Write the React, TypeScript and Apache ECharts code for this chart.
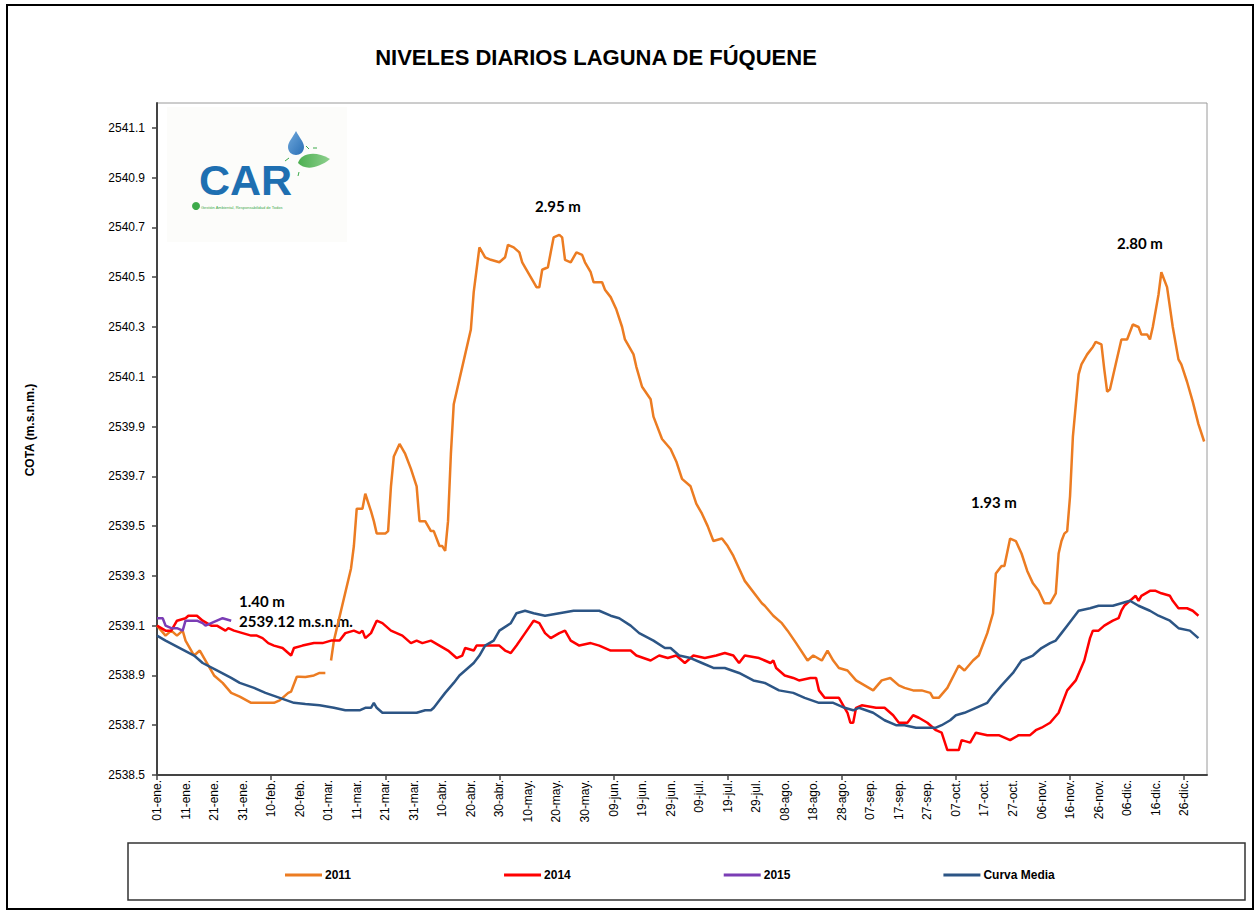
import React, { useEffect, useRef } from "react";
import * as echarts from "echarts";

// ---------- DATA ----------
const DAY_LABELS = [
  "01-ene.", "11-ene.", "21-ene.", "31-ene.", "10-feb.", "20-feb.", "01-mar.", "11-mar.", "21-mar.", "31-mar.",
  "10-abr.", "20-abr.", "30-abr.", "10-may.", "20-may.", "30-may.", "09-jun.", "19-jun.", "29-jun.", "09-jul.",
  "19-jul.", "29-jul.", "08-ago.", "18-ago.", "28-ago.", "07-sep.", "17-sep.", "27-sep.", "07-oct.", "17-oct.",
  "27-oct.", "06-nov.", "16-nov.", "26-nov.", "06-dic.", "16-dic.", "26-dic.",
];
const Y_TICKS = [2538.5, 2538.7, 2538.9, 2539.1, 2539.3, 2539.5, 2539.7, 2539.9, 2540.1, 2540.3, 2540.5, 2540.7, 2540.9, 2541.1];

const DAYS_2011 = [
  0, 3, 5, 7, 9, 10, 13, 15, 17, 20, 23, 26, 29, 33, 38, 41, 43, 46, 47, 49, 50, 52, 55, 57, 59,
  60,
  61, 62, 68, 69, 70, 72, 73, 75, 76, 77, 80, 81, 82, 83, 85, 87, 89, 91, 92, 94, 96, 97, 99, 100,
  101, 102, 103, 104, 106, 108, 110, 111, 113, 115, 117, 120, 122, 123, 125, 127, 128, 129, 132, 133,
  134, 135, 137, 138, 139, 141, 142, 143, 145, 147, 149, 150, 152, 153, 156, 157, 159, 161, 163, 164,
  167, 168, 170, 173, 174, 177, 180, 182, 184, 187, 189, 191, 193, 195, 198, 200, 202, 204, 206, 212,
  213, 216, 219, 221, 224, 228, 230, 233, 235, 237, 239, 242, 245, 248, 251, 254, 257, 260, 262, 265,
  268, 271, 272, 274, 277, 281, 283, 286, 288, 291, 293, 294, 296, 297, 299, 301, 303, 305, 307, 309,
  311, 313, 315, 316, 317, 318, 319, 320, 321, 323, 324, 326, 328, 329, 331, 332, 333, 334, 336, 338,
  340, 342, 344, 345, 347, 348, 349, 351, 352, 354, 356, 358, 359, 361, 363, 365, 367,
];
const VALUES_2011 = [
  2539.10, 2539.06, 2539.08, 2539.06, 2539.08, 2539.04, 2538.98, 2539.00, 2538.96, 2538.90, 2538.87, 2538.83, 2538.815, 2538.79, 2538.79, 2538.79, 2538.80, 2538.83, 2538.835, 2538.895, 2538.895, 2538.894, 2538.90, 2538.91, 2538.91,
  null,
  2538.96, 2539.04, 2539.33, 2539.42, 2539.57, 2539.57, 2539.63, 2539.56, 2539.52, 2539.47, 2539.47, 2539.48, 2539.66, 2539.78, 2539.83, 2539.79, 2539.73, 2539.66, 2539.52, 2539.52, 2539.48, 2539.48, 2539.42, 2539.42,
  2539.40, 2539.52, 2539.79, 2539.99, 2540.09, 2540.19, 2540.29, 2540.44, 2540.62, 2540.58, 2540.57, 2540.56, 2540.58, 2540.63, 2540.62, 2540.60, 2540.56, 2540.54, 2540.48, 2540.46,
  2540.46, 2540.53, 2540.54, 2540.60, 2540.66, 2540.67, 2540.66, 2540.57, 2540.56, 2540.60, 2540.59, 2540.56, 2540.52, 2540.48, 2540.48, 2540.45, 2540.42, 2540.37, 2540.30, 2540.25,
  2540.19, 2540.14, 2540.06, 2540.01, 2539.94, 2539.85, 2539.81, 2539.76, 2539.69, 2539.66, 2539.59, 2539.55, 2539.50, 2539.44, 2539.45, 2539.42, 2539.38, 2539.33, 2539.28, 2539.19,
  2539.18, 2539.14, 2539.11, 2539.08, 2539.03, 2538.96, 2538.98, 2538.96, 2539.00, 2538.96, 2538.93, 2538.92, 2538.88, 2538.86, 2538.84, 2538.88, 2538.89, 2538.86, 2538.85, 2538.84,
  2538.84, 2538.83, 2538.81, 2538.81, 2538.85, 2538.94, 2538.92, 2538.96, 2538.98, 2539.07, 2539.15, 2539.31, 2539.34, 2539.34, 2539.45, 2539.44, 2539.39, 2539.32, 2539.27, 2539.24,
  2539.19, 2539.19, 2539.23, 2539.39, 2539.44, 2539.47, 2539.48, 2539.62, 2539.86, 2540.11, 2540.15, 2540.19, 2540.22, 2540.24, 2540.23, 2540.13, 2540.04, 2540.05, 2540.15, 2540.25,
  2540.25, 2540.31, 2540.30, 2540.27, 2540.27, 2540.25, 2540.30, 2540.43, 2540.52, 2540.46, 2540.30, 2540.17, 2540.15, 2540.08, 2540.00, 2539.91, 2539.84,
];

const DAYS_2014 = [
  0, 3, 5, 7, 10, 11, 14, 16, 19, 21, 24, 25, 27, 30, 33, 35, 37, 39, 41, 44, 47, 48, 51, 55, 58,
  61, 64, 66, 69, 71, 72, 73, 75, 77, 79, 82, 84, 86, 89, 91, 93, 96, 99, 102, 105, 107, 108, 111, 112, 114,
  117, 120, 122, 124, 126, 129, 132, 134, 136, 138, 141, 143, 145, 148, 152, 155, 159, 162, 166, 168,
  173, 176, 179, 182, 185, 188, 192, 196, 199, 202, 204, 206, 211, 213, 215, 216, 217, 220, 223, 225,
  229, 231, 232, 234, 239, 240, 242, 243, 244, 245, 247, 252, 255, 258, 260, 263, 265, 267, 270, 273,
  275, 277, 281, 282, 285, 287, 291, 295, 299, 302, 306, 308, 310, 313, 316, 319, 322, 325, 327, 328,
  330, 332, 335, 337, 338, 339, 341, 343, 344, 345, 348, 350, 352, 355, 356, 358, 361, 363, 365,
];
const VALUES_2014 = [
  2539.10, 2539.08, 2539.08, 2539.12, 2539.13, 2539.14, 2539.14, 2539.12, 2539.10, 2539.10, 2539.08, 2539.09, 2539.08, 2539.07, 2539.06, 2539.06, 2539.05, 2539.03, 2539.02, 2539.01, 2538.98, 2539.01, 2539.02, 2539.03, 2539.03,
  2539.04, 2539.04, 2539.07, 2539.08, 2539.07, 2539.08, 2539.05, 2539.07, 2539.12, 2539.11, 2539.08, 2539.07, 2539.06, 2539.03, 2539.04, 2539.03, 2539.04, 2539.02, 2539.00, 2538.97, 2538.98, 2539.01, 2539.00, 2539.02, 2539.02,
  2539.02, 2539.02, 2539.00, 2538.99, 2539.02, 2539.07, 2539.12, 2539.11, 2539.07, 2539.05, 2539.07, 2539.08, 2539.04, 2539.02, 2539.03, 2539.02, 2539.00, 2539.00, 2539.00, 2538.98,
  2538.96, 2538.98, 2538.97, 2538.98, 2538.95, 2538.98, 2538.97, 2538.98, 2538.99, 2538.98, 2538.95, 2538.98, 2538.97, 2538.96, 2538.95, 2538.96, 2538.93, 2538.90, 2538.89, 2538.88,
  2538.89, 2538.89, 2538.84, 2538.81, 2538.81, 2538.79, 2538.75, 2538.71, 2538.71, 2538.77, 2538.78, 2538.77, 2538.77, 2538.74, 2538.71, 2538.71, 2538.74, 2538.73, 2538.71, 2538.68,
  2538.67, 2538.60, 2538.60, 2538.64, 2538.63, 2538.67, 2538.66, 2538.66, 2538.64, 2538.66, 2538.66, 2538.68, 2538.69, 2538.71, 2538.75, 2538.84, 2538.88, 2538.96, 2539.05, 2539.08,
  2539.08, 2539.10, 2539.12, 2539.13, 2539.16, 2539.18, 2539.20, 2539.22, 2539.20, 2539.22, 2539.24, 2539.24, 2539.23, 2539.22, 2539.20, 2539.17, 2539.17, 2539.16, 2539.14,
];

const DAYS_2015 = [0, 2, 3, 5, 7, 9, 10, 11, 14, 16, 17, 19, 21, 23, 26];
const VALUES_2015 = [2539.13, 2539.13, 2539.10, 2539.09, 2539.09, 2539.08, 2539.12, 2539.12, 2539.12, 2539.11, 2539.10, 2539.11, 2539.12, 2539.13, 2539.12];

const DAYS_MEDIA = [
  0, 3, 8, 13, 16, 21, 26, 29, 34, 38, 43, 48, 52, 57, 62, 66, 71, 73, 75, 76, 77, 79, 83, 87, 91,
  94, 96, 97, 99, 101, 104, 106, 108, 111, 113, 115, 118, 120, 124, 126, 129, 132, 136, 141, 146, 152, 155, 159, 162, 166,
  169, 174, 178, 180, 183, 187, 191, 195, 199, 204, 209, 213, 218, 223, 227, 232, 237, 241, 244, 246,
  251, 255, 259, 262, 266, 271, 273, 275, 278, 280, 283, 287, 291, 293, 296, 300, 303, 307, 310, 313,
  315, 317, 319, 321, 323, 327, 330, 335, 338, 341, 344, 348, 351, 355, 358, 362, 365,
];
const VALUES_MEDIA = [
  2539.06, 2539.04, 2539.01, 2538.98, 2538.95, 2538.92, 2538.89, 2538.87, 2538.85, 2538.83, 2538.81, 2538.79, 2538.785, 2538.78, 2538.77, 2538.76, 2538.76, 2538.77, 2538.77, 2538.79, 2538.77, 2538.75, 2538.75, 2538.75, 2538.75,
  2538.76, 2538.76, 2538.77, 2538.80, 2538.83, 2538.87, 2538.90, 2538.92, 2538.95, 2538.98, 2539.02, 2539.04, 2539.08, 2539.11, 2539.15, 2539.16, 2539.15, 2539.14, 2539.15, 2539.16, 2539.16, 2539.16, 2539.14, 2539.13, 2539.10,
  2539.07, 2539.04, 2539.01, 2539.01, 2538.98, 2538.97, 2538.95, 2538.93, 2538.93, 2538.91, 2538.88, 2538.87, 2538.84, 2538.83, 2538.81, 2538.79, 2538.79, 2538.77, 2538.76, 2538.77,
  2538.75, 2538.72, 2538.70, 2538.70, 2538.69, 2538.69, 2538.69, 2538.70, 2538.72, 2538.74, 2538.75, 2538.77, 2538.79, 2538.82, 2538.86, 2538.91, 2538.96, 2538.98, 2539.01, 2539.03,
  2539.04, 2539.07, 2539.10, 2539.13, 2539.16, 2539.17, 2539.18, 2539.18, 2539.19, 2539.20, 2539.18, 2539.16, 2539.14, 2539.12, 2539.09, 2539.08, 2539.05,
];

const SERIES_NAMES = ["2011", "2014", "2015", "Curva Media"];
const SERIES_COLORS = ["#EC7C22", "#FF0000", "#7B3DB5", "#2C5585"];

// ---------- LOGO SHAPES ----------
echarts.graphic.registerShape(
  "carDrop",
  echarts.graphic.extendPath("M0 0 C3 6 8 11 8 16 C8 21 4 24 0 24 C-4 24 -8 21 -8 16 C-8 11 -3 6 0 0 Z", {})
);
echarts.graphic.registerShape(
  "carLeaf",
  echarts.graphic.extendPath("M0 5 C2 -3 15 -9 32 1 C21 10 7 13 0 5 Z", {})
);

const FONT = "'Liberation Sans', Arial, sans-serif";

function pairs(days: number[], vals: (number | null)[]) {
  return days.map((d, i) => [d, vals[i] === null ? "-" : vals[i]]);
}

export default function App() {
  const ref = useRef<HTMLDivElement>(null);
  useEffect(() => {
    if (!ref.current) return;
    const chart = echarts.init(ref.current, undefined, { renderer: "svg" });
    const lineSeries = (name: string, color: string, data: any[]) => ({
      type: "line",
      name,
      data,
      showSymbol: false,
      symbol: "none",
      connectNulls: false,
      lineStyle: { color, width: 2.5 },
      itemStyle: { color },
    });
    const option: any = {
      animation: false,
      backgroundColor: "#ffffff",
      grid: {
        left: 157,
        top: 103,
        width: 1050,
        height: 672,
        containLabel: false,
        outerBoundsMode: "none",
        show: true,
        borderColor: "#9a9a9a",
        borderWidth: 1,
      },
      xAxis: {
        type: "value",
        min: 0,
        max: 368,
        splitLine: { show: false },
        axisLine: { show: true, onZero: false, lineStyle: { color: "#444", width: 2 } },
        axisTick: {
          show: true,
          inside: false,
          length: 5,
          customValues: DAY_LABELS.map((_, i) => i * 10).filter((_, i) => i % 4 === 0),
          lineStyle: { color: "#444", width: 1.5 },
        },
        axisLabel: {
          customValues: DAY_LABELS.map((_, i) => i * 10),
          formatter: (v: number) => DAY_LABELS[Math.round(v / 10)] ?? "",
          rotate: 90,
          margin: 5,
          color: "#000",
          fontSize: 12,
          fontFamily: FONT,
        },
      },
      yAxis: {
        type: "value",
        min: 2538.5,
        max: 2541.2,
        splitLine: { show: false },
        axisLine: { show: true, onZero: false, lineStyle: { color: "#444", width: 2 } },
        axisTick: {
          show: true,
          inside: false,
          length: 5,
          customValues: Y_TICKS,
          lineStyle: { color: "#444", width: 1.5 },
        },
        axisLabel: {
          customValues: Y_TICKS,
          formatter: (v: number) => v.toFixed(1),
          margin: 12,
          color: "#000",
          fontSize: 12,
          fontFamily: FONT,
        },
      },
      legend: {
        data: SERIES_NAMES,
        left: 280,
        top: 864,
        icon: "rect",
        itemWidth: 37,
        itemHeight: 3,
        itemGap: 153,
        textStyle: { color: "#000", fontSize: 12, fontWeight: "bold", fontFamily: FONT, padding: [0, 0, 0, -2] },
      },
      series: [
        lineSeries(SERIES_NAMES[0], SERIES_COLORS[0], pairs(DAYS_2011, VALUES_2011)),
        lineSeries(SERIES_NAMES[1], SERIES_COLORS[1], pairs(DAYS_2014, VALUES_2014)),
        lineSeries(SERIES_NAMES[2], SERIES_COLORS[2], pairs(DAYS_2015, VALUES_2015)),
        lineSeries(SERIES_NAMES[3], SERIES_COLORS[3], pairs(DAYS_MEDIA, VALUES_MEDIA)),
      ],
      graphic: [
        { type: "rect", shape: { x: 7, y: 5, width: 1246, height: 904 }, style: { fill: "none", stroke: "#000", lineWidth: 2 }, silent: true },
        { type: "rect", shape: { x: 128, y: 843, width: 1117, height: 57 }, style: { fill: "none", stroke: "#333", lineWidth: 1.5 }, silent: true },
        {
          type: "text", x: 596, y: 57,
          style: { text: "NIVELES DIARIOS LAGUNA DE FÚQUENE", fill: "#000", font: `bold 22px ${FONT}`, textAlign: "center", verticalAlign: "middle" },
        },
        {
          type: "text", x: 30, y: 430, rotation: Math.PI / 2,
          style: { text: "COTA (m.s.n.m.)", fill: "#000", font: `bold 12px ${FONT}`, textAlign: "center", verticalAlign: "middle" },
        },
        // logo
        { type: "rect", shape: { x: 167, y: 107, width: 180, height: 135 }, style: { fill: "#fcfcfa" }, silent: true },
        {
          type: "text", x: 199, y: 180,
          style: { text: "CAR", fill: "#1E6FB1", font: `bold 43px ${FONT}`, textAlign: "left", verticalAlign: "middle" },
        },
        { type: "circle", shape: { cx: 196, cy: 206, r: 4 }, style: { fill: "#3DAA4A" } },
        {
          type: "text", x: 201, y: 207,
          style: { text: "Gestión Ambiental, Responsabilidad de Todos", fill: "#3DAA4A", font: `4px ${FONT}`, textAlign: "left", verticalAlign: "middle" },
        },
        {
          type: "carDrop", x: 296, y: 131, scaleX: 1, scaleY: 1,
          style: {
            fill: new echarts.graphic.LinearGradient(0, 0, 1, 1, [
              { offset: 0, color: "#6FA8DC" },
              { offset: 1, color: "#2A6FB5" },
            ]),
          },
        },
        {
          type: "carLeaf", x: 298, y: 158, scaleX: 1, scaleY: 1,
          style: {
            fill: new echarts.graphic.LinearGradient(0, 0, 1, 0, [
              { offset: 0, color: "#4CAF50" },
              { offset: 1, color: "#8ED08E" },
            ]),
          },
        },
        { type: "line", shape: { x1: 306, y1: 146, x2: 309, y2: 149 }, style: { stroke: "#3DAA4A", lineWidth: 1 } },
        { type: "line", shape: { x1: 313, y1: 148, x2: 317, y2: 148 }, style: { stroke: "#3DAA4A", lineWidth: 1 } },
        { type: "line", shape: { x1: 285, y1: 161, x2: 289, y2: 158 }, style: { stroke: "#3DAA4A", lineWidth: 1 } },
        { type: "line", shape: { x1: 299, y1: 172, x2: 298, y2: 176 }, style: { stroke: "#3DAA4A", lineWidth: 1 } },
        // annotations
        { type: "text", x: 558, y: 206, style: { text: "2.95 m", fill: "#000", font: "bold 15px Lato, sans-serif", textAlign: "center", verticalAlign: "middle" } },
        { type: "text", x: 1140, y: 243, style: { text: "2.80 m", fill: "#000", font: "bold 15px Lato, sans-serif", textAlign: "center", verticalAlign: "middle" } },
        { type: "text", x: 994, y: 502, style: { text: "1.93 m", fill: "#000", font: "bold 15px Lato, sans-serif", textAlign: "center", verticalAlign: "middle" } },
        { type: "text", x: 239, y: 601, style: { text: "1.40 m", fill: "#000", font: "bold 15px Lato, sans-serif", textAlign: "left", verticalAlign: "middle" } },
        { type: "text", x: 239, y: 621, style: { text: "2539.12 m.s.n.m.", fill: "#000", font: "bold 15px Lato, sans-serif", textAlign: "left", verticalAlign: "middle" } },
      ],
    };
    chart.setOption(option);
    return () => chart.dispose();
  }, []);
  return <div ref={ref} style={{ position: "absolute", left: 0, top: 0, width: 1256, height: 914 }} />;
}
